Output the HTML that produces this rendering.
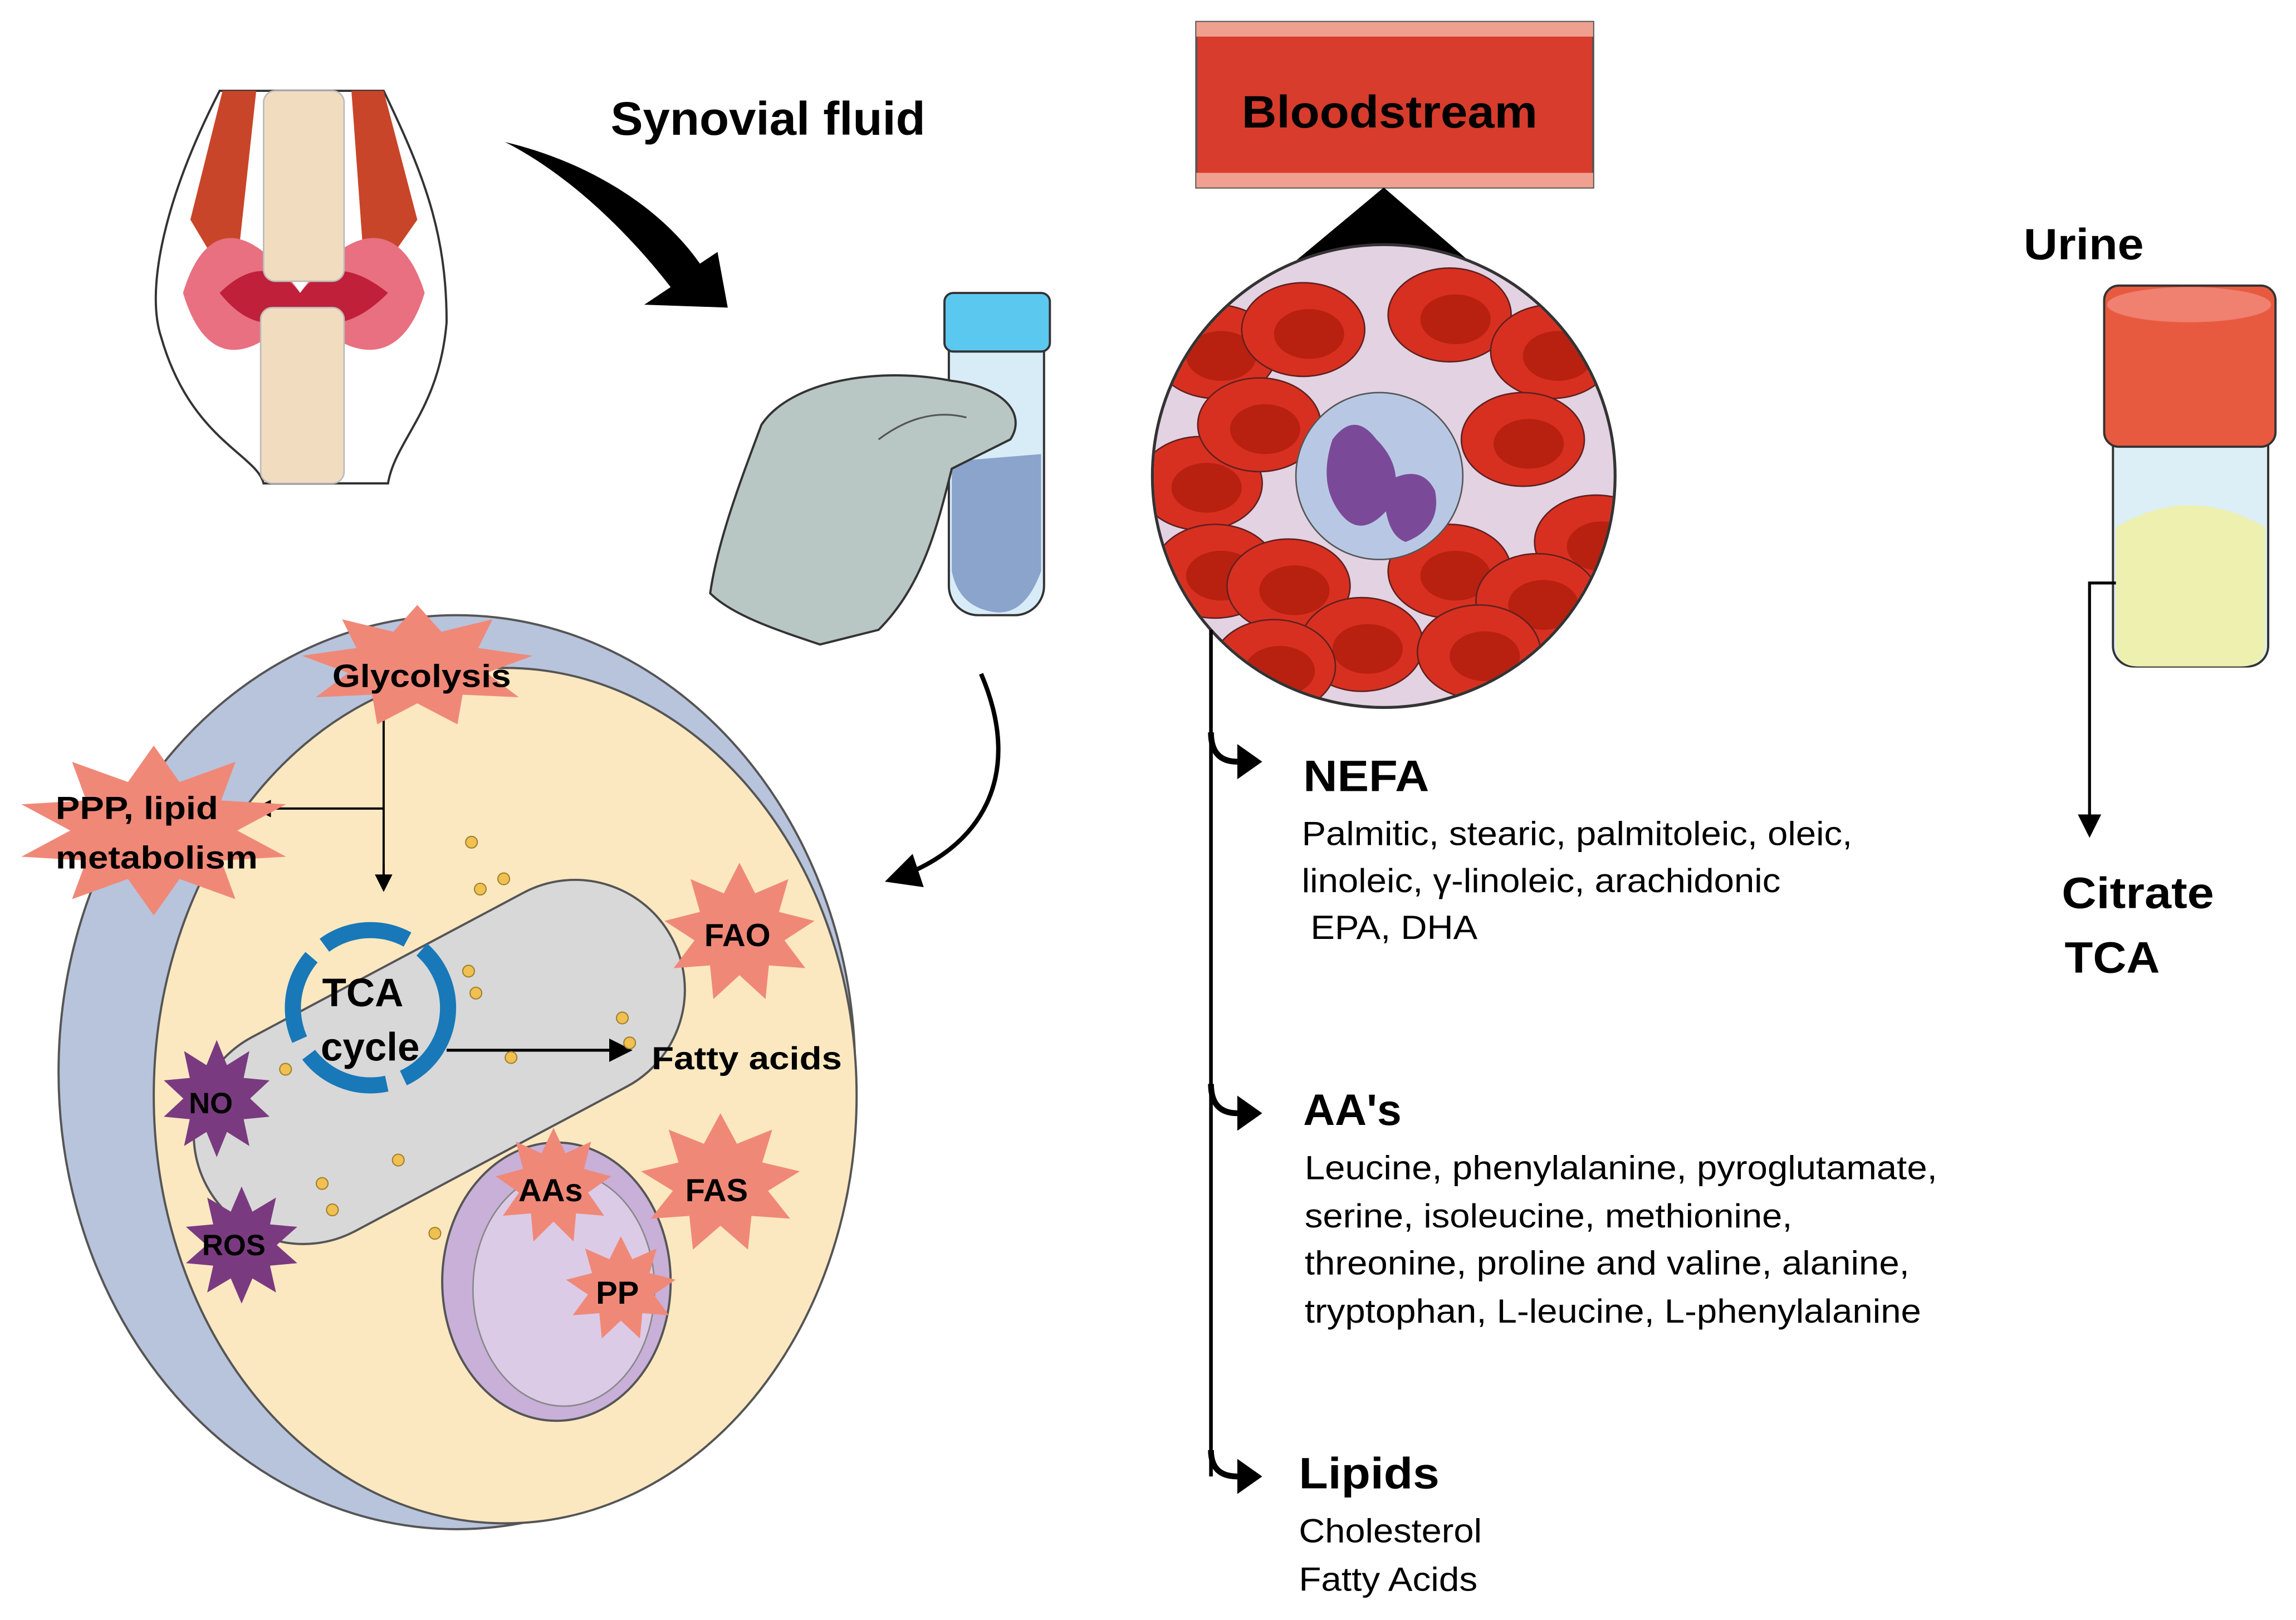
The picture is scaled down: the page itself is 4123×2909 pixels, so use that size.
<!DOCTYPE html>
<html><head><meta charset="utf-8">
<style>
html,body{margin:0;padding:0;background:#fff;}
svg{display:block;}
text{font-family:"Liberation Sans",Arial,sans-serif;}
</style></head>
<body>
<svg id="s" width="4123" height="2909" viewBox="0 0 1568 1106" preserveAspectRatio="none" xmlns="http://www.w3.org/2000/svg">
<defs>
<marker id="ah" markerWidth="8" markerHeight="8" refX="6" refY="4" orient="auto"><path d="M0,0 L8,4 L0,8 z" fill="#000"/></marker>
<clipPath id="cc"><circle cx="945" cy="325" r="157"/></clipPath>
</defs>
<rect width="1568" height="1106" fill="#fff"/>

<!-- Joint -->
<g>
<path d="M150,62 C110,140 100,200 110,230 C130,300 175,310 180,330 L265,330 C270,300 300,280 305,220 C305,160 290,120 262,62 Z" fill="#fff" stroke="#333" stroke-width="1.5"/>
<path d="M152,62 L130,150 L160,200 L175,62 Z" fill="#c8452a"/>
<path d="M262,62 L285,150 L250,200 L240,62 Z" fill="#c8452a"/>
<path d="M125,200 C140,150 170,150 205,200 C240,150 275,150 290,200 C275,250 240,250 205,210 C170,250 140,250 125,200Z" fill="#e87080"/>
<path d="M150,200 C170,180 190,180 205,200 C220,180 240,180 265,200 C240,225 220,225 205,210 C190,225 170,225 150,200Z" fill="#c0203a"/>
<rect x="180" y="62" width="55" height="130" rx="8" fill="#f2dcc0" stroke="#bbb"/>
<rect x="178" y="210" width="57" height="120" rx="8" fill="#f2dcc0" stroke="#bbb"/>
</g>

<!-- Synovial arrow -->
<path d="M345,97 C400,110 450,140 478,180 L490,172 L497,210 L440,208 L458,196 C430,160 390,120 345,97Z" fill="#000"/>
<text x="417" y="92" font-size="32" font-weight="bold" textLength="215" lengthAdjust="spacingAndGlyphs">Synovial fluid</text>

<!-- Hand & tube -->
<rect x="648" y="215" width="65" height="205" rx="20" fill="#d8ecf8" stroke="#333" stroke-width="1.5"/>
<path d="M650,315 L711,310 L711,390 Q700,420 680,418 Q655,415 650,390Z" fill="#8aa4cc"/>
<rect x="645" y="200" width="72" height="40" rx="6" fill="#5bc8f0" stroke="#333" stroke-width="1.5"/>
<path d="M520,290 C540,260 600,250 650,260 C690,265 700,285 690,300 L650,320 C640,360 630,400 600,430 L560,440 C530,430 500,420 485,405 C490,370 505,330 520,290Z" fill="#b8c6c4" stroke="#333" stroke-width="1.5"/>
<path d="M600,300 C620,285 640,280 660,285" fill="none" stroke="#555" stroke-width="1.2"/>

<!-- thin curved arrow -->
<path d="M670,460 C700,530 670,580 610,600" fill="none" stroke="#000" stroke-width="3" marker-end="url(#ah)"/>

<!-- Cell -->
<ellipse cx="312" cy="732" rx="272" ry="312" fill="#b8c4dc" stroke="#555" stroke-width="1.5"/>
<ellipse cx="345" cy="748" rx="240" ry="292" fill="#fbe8c0" stroke="#555" stroke-width="1.5"/>
<rect x="120" y="650" width="360" height="150" rx="75" transform="rotate(-28 300 725)" fill="#d8d8d8" stroke="#555" stroke-width="1.5"/>
<ellipse cx="380" cy="875" rx="78" ry="95" fill="#c8b0d8" stroke="#555" stroke-width="1.5"/>
<ellipse cx="385" cy="880" rx="62" ry="80" fill="#dccbe6" stroke="#888" stroke-width="1"/>
<circle cx="253" cy="688" r="53" fill="none" stroke="#1878b8" stroke-width="11" stroke-dasharray="60 12"/>
<text x="220" y="687" font-size="27" font-weight="bold">TCA</text>
<text x="219" y="724" font-size="27" font-weight="bold">cycle</text>
<line x1="305" y1="717" x2="428" y2="717" stroke="#000" stroke-width="2" marker-end="url(#ah)"/>
<text x="445" y="730" font-size="22" font-weight="bold" textLength="130" lengthAdjust="spacingAndGlyphs">Fatty acids</text>
<path d="M262,485 L262,605 M262,552 L180,552" stroke="#000" stroke-width="1.5" fill="none"/>
<line x1="262" y1="590" x2="262" y2="606" stroke="#000" stroke-width="1.5" marker-end="url(#ah)"/>
<line x1="190" y1="552" x2="176" y2="552" stroke="#000" stroke-width="1.5" marker-end="url(#ah)"/>
<g fill="#f0c050" stroke="#a08030" stroke-width="0.8">
<circle cx="322" cy="575" r="4"/><circle cx="344" cy="600" r="4"/><circle cx="328" cy="607" r="4"/><circle cx="320" cy="663" r="4"/><circle cx="325" cy="678" r="4"/><circle cx="425" cy="695" r="4"/><circle cx="430" cy="712" r="4"/><circle cx="349" cy="722" r="4"/><circle cx="195" cy="730" r="4"/><circle cx="220" cy="808" r="4"/><circle cx="227" cy="826" r="4"/><circle cx="272" cy="792" r="4"/><circle cx="297" cy="842" r="4"/>
</g>
<g id="stars"></g>
<text x="227" y="469" font-size="22" font-weight="bold" textLength="122" lengthAdjust="spacingAndGlyphs">Glycolysis</text>
<text x="38" y="559" font-size="22" font-weight="bold" textLength="111" lengthAdjust="spacingAndGlyphs">PPP, lipid</text>
<text x="38" y="593" font-size="22" font-weight="bold" textLength="138" lengthAdjust="spacingAndGlyphs">metabolism</text>
<text x="481" y="646" font-size="22" font-weight="bold">FAO</text>
<text x="129" y="760" font-size="20" font-weight="bold">NO</text>
<text x="138" y="857" font-size="20" font-weight="bold">ROS</text>
<text x="354" y="820" font-size="22" font-weight="bold">AAs</text>
<text x="468" y="820" font-size="22" font-weight="bold">FAS</text>
<text x="407" y="890" font-size="22" font-weight="bold">PP</text>

<!-- Bloodstream -->
<rect x="817" y="15" width="271" height="113" fill="#d83c2c" stroke="#555" stroke-width="1.5"/>
<rect x="817" y="15" width="271" height="10" fill="#f0a090"/>
<rect x="817" y="118" width="271" height="10" fill="#f0a090"/>
<text x="848" y="87" font-size="31" font-weight="bold" textLength="202" lengthAdjust="spacingAndGlyphs">Bloodstream</text>
<path d="M945,128 L885,178 L1003,178Z" fill="#000"/>
<circle cx="945" cy="325" r="158" fill="#e2d2e2" stroke="#333" stroke-width="2"/>
<g clip-path="url(#cc)" id="rbc"></g>
<circle cx="942" cy="325" r="57" fill="#b8c8e4" stroke="#555"/>
<path d="M910,300 Q925,280 940,300 Q960,320 950,345 Q930,370 915,350 Q900,330 910,300Z" fill="#7a4a98"/>
<path d="M945,330 Q970,315 980,335 Q985,360 960,370 Q945,365 945,330Z" fill="#7a4a98"/>

<!-- Blood tree -->
<path d="M827,430 L827,1008" stroke="#000" stroke-width="2.5" fill="none"/>
<path d="M827,500 Q827,520 845,520" stroke="#000" stroke-width="4" fill="none"/>
<path d="M845,508 L862,520 L845,532Z" fill="#000"/>
<path d="M827,740 Q827,760 845,760" stroke="#000" stroke-width="4" fill="none"/>
<path d="M845,748 L862,760 L845,772Z" fill="#000"/>
<path d="M827,990 Q827,1008 845,1008" stroke="#000" stroke-width="4" fill="none"/>
<path d="M845,996 L862,1008 L845,1020Z" fill="#000"/>
<text x="890" y="540" font-size="30" font-weight="bold" textLength="86" lengthAdjust="spacingAndGlyphs">NEFA</text>
<g font-size="23"><text x="889" y="577" textLength="376" lengthAdjust="spacingAndGlyphs">Palmitic, stearic, palmitoleic, oleic,</text>
<text x="889" y="609" textLength="327" lengthAdjust="spacingAndGlyphs">linoleic, γ-linoleic, arachidonic</text>
<text x="895" y="641" textLength="114" lengthAdjust="spacingAndGlyphs">EPA, DHA</text></g>
<text x="890" y="768" font-size="30" font-weight="bold">AA's</text>
<g font-size="23"><text x="891" y="805" textLength="432" lengthAdjust="spacingAndGlyphs">Leucine, phenylalanine, pyroglutamate,</text>
<text x="891" y="838" textLength="333" lengthAdjust="spacingAndGlyphs">serine, isoleucine, methionine,</text>
<text x="891" y="870" textLength="413" lengthAdjust="spacingAndGlyphs">threonine, proline and valine, alanine,</text>
<text x="891" y="903" textLength="421" lengthAdjust="spacingAndGlyphs">tryptophan, L-leucine, L-phenylalanine</text></g>
<text x="887" y="1016" font-size="30" font-weight="bold" textLength="96" lengthAdjust="spacingAndGlyphs">Lipids</text>
<g font-size="23"><text x="887" y="1053" textLength="125" lengthAdjust="spacingAndGlyphs">Cholesterol</text><text x="887" y="1086" textLength="122" lengthAdjust="spacingAndGlyphs">Fatty Acids</text></g>

<!-- Urine -->
<text x="1382" y="177" font-size="30" font-weight="bold" textLength="82" lengthAdjust="spacingAndGlyphs">Urine</text>
<rect x="1443" y="290" width="106" height="165" rx="14" fill="#dceef6" stroke="#333" stroke-width="1.5"/>
<path d="M1445,360 Q1495,330 1547,360 L1547,440 Q1547,455 1530,455 L1460,455 Q1445,455 1445,440Z" fill="#eef0b0"/>
<rect x="1437" y="195" width="117" height="110" rx="10" fill="#e85a40" stroke="#333" stroke-width="1.5"/>
<ellipse cx="1495" cy="208" rx="56" ry="12" fill="#f08070"/>
<path d="M1445,398 L1427,398 L1427,568" stroke="#000" stroke-width="2" fill="none" marker-end="url(#ah)"/>
<text x="1408" y="620" font-size="30" font-weight="bold" textLength="104" lengthAdjust="spacingAndGlyphs">Citrate</text>
<text x="1410" y="664" font-size="30" font-weight="bold" textLength="65" lengthAdjust="spacingAndGlyphs">TCA</text>
</svg>
<script>
var NS="http://www.w3.org/2000/svg";
function star(cx,cy,Rx,Ry,k,n,fill){var p=[];for(var i=0;i<2*n;i++){var a=Math.PI*i/n-Math.PI/2,f=i%2?k:1;p.push((cx+Rx*f*Math.cos(a)).toFixed(1)+","+(cy+Ry*f*Math.sin(a)).toFixed(1));}
var e=document.createElementNS(NS,"polygon");e.setAttribute("points",p.join(" "));e.setAttribute("fill",fill);document.getElementById("stars").appendChild(e);}
var sal="#f08878",pur="#7a3a80";
star(285,455,80,42,0.6,9,sal);star(105,567,95,58,0.6,10,sal);star(505,637,52,48,0.6,9,sal);
star(148,750,38,40,0.6,10,pur);star(165,850,40,40,0.6,10,pur);
star(378,810,40,40,0.6,9,sal);star(492,808,55,48,0.6,9,sal);star(424,880,38,36,0.6,9,sal);
var g=document.getElementById("rbc");
[[830,240],[890,225],[990,215],[1060,240],[820,330],[860,290],[1040,300],[1090,370],[830,390],[880,400],[990,390],[1050,410],[930,440],[1010,445],[870,455]].forEach(function(c){
var e=document.createElementNS(NS,"ellipse");e.setAttribute("cx",c[0]);e.setAttribute("cy",c[1]);e.setAttribute("rx",42);e.setAttribute("ry",32);e.setAttribute("fill","#d83020");e.setAttribute("stroke","#602020");g.appendChild(e);
var f=document.createElementNS(NS,"ellipse");f.setAttribute("cx",c[0]+4);f.setAttribute("cy",c[1]+3);f.setAttribute("rx",24);f.setAttribute("ry",17);f.setAttribute("fill","#b82010");g.appendChild(f);});
</script>
</body></html>
